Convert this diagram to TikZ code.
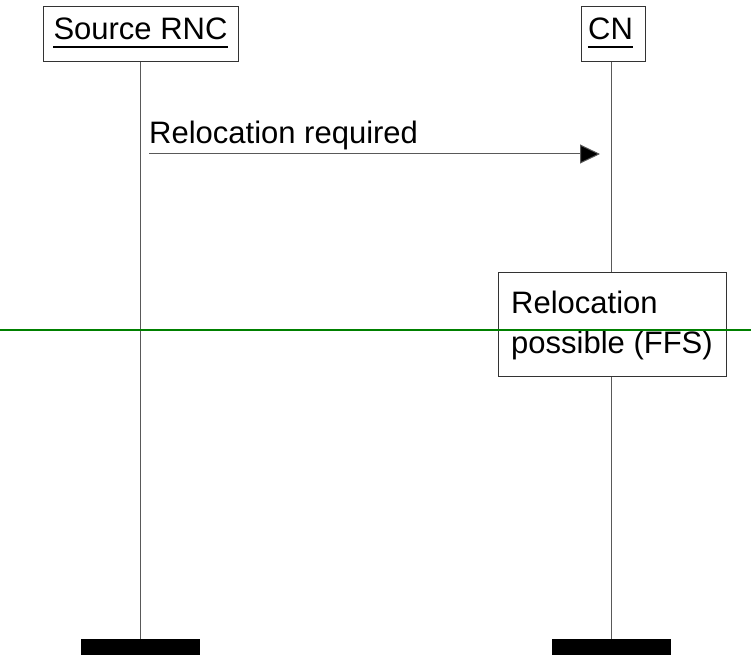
\documentclass[tikz,border=0pt]{standalone}
\usepackage{fontspec}
\setmainfont{Liberation Sans}
\usetikzlibrary{arrows.meta}
\definecolor{sepgreen}{RGB}{0,128,0}
\begin{document}
\begin{tikzpicture}[x=1pt,y=-1pt,
  txt/.style={inner sep=0pt, font=\fontsize{31}{40}\selectfont},
  entity/.style={draw=black!80, line width=1pt, fill=white, inner sep=0pt},
  life/.style={draw=black!65, line width=1pt},
  bar/.style={fill=black, draw=none, inner sep=0pt, minimum width=119pt, minimum height=16pt},
  msg/.style={draw=black!65, line width=1pt, -{Triangle[length=20pt,width=19pt,fill=black]}},
  uline/.style={line width=2.5pt}
]
\useasboundingbox (0,0) rectangle (751,655);
% entity boxes
\node[entity, minimum width=195pt, minimum height=55pt] (src) at (140.5,34.5) {};
\node[entity, minimum width=64pt, minimum height=55pt] (cn) at (613,34.5) {};
% bottom bars
\node[bar] (srcbar) at (140.5,647) {};
\node[bar] (cnbar) at (611.5,647) {};
% lifelines
\draw[life] (src.south) -- (srcbar.north);
\draw[life] (cnbar.north |- cn.south) -- (cnbar.north);
% entity labels
\node[txt, anchor=base] (srcT) at (140.5,40) {Source RNC};
\draw[uline] ([yshift=-7pt]srcT.base west) -- ([yshift=-7pt]srcT.base east);
\node[txt, anchor=base] (cnT) at (610.5,40) {CN};
\draw[uline] ([yshift=-7pt]cnT.base west) -- ([yshift=-7pt]cnT.base east);
% message
\coordinate (m1s) at (149,154);
\coordinate (m1e) at (600,154);
\draw[msg] (m1s) -- (m1e);
\node[txt, anchor=base west] (m1T) at (149,144) {Relocation required};
% condition box
\node[entity, minimum width=228pt, minimum height=104pt] (poss) at (612,324) {};
\node[txt, anchor=base west] (possT1) at (511,313) {Relocation};
\node[txt, anchor=base west] (possT2) at (511,353) {possible (FFS)};
% green separator
\coordinate (gL) at (0,330);
\coordinate (gR) at (751,330);
\draw[sepgreen, line width=1.5pt] (gL) -- (gR);
\end{tikzpicture}
\end{document}
